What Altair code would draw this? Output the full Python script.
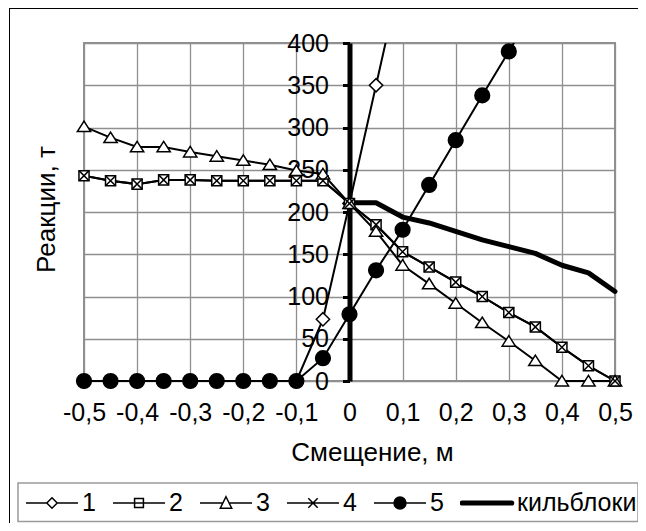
import altair as alt
import pandas as pd

# ---------------- data ----------------
NAMES = ["1", "2", "3", "4", "5", "кильблоки"]

X_FULL = [-0.5, -0.45, -0.4, -0.35, -0.3, -0.25, -0.2, -0.15, -0.1, -0.05, 0.0,
          0.05, 0.1, 0.15, 0.2, 0.25, 0.3, 0.35, 0.4, 0.45, 0.5]

X_S1 = [-0.5, -0.45, -0.4, -0.35, -0.3, -0.25, -0.2, -0.15, -0.1, -0.05, 0.0, 0.05, 0.1]
S1 = [0, 0, 0, 0, 0, 0, 0, 0, 0, 73, 210, 350, 490]

S2 = [243, 237, 233, 238, 238, 237, 237, 237, 237, 237, 210,
      185, 153, 135, 117, 100, 81, 64, 40, 18, 0]

S3 = [301, 288, 277, 277, 271, 266, 261, 256, 249, 245, 210,
      177, 137, 115, 92, 69, 47, 24, 0, 0, 0]

S4 = [243, 237, 233, 238, 238, 237, 237, 237, 237, 237, 210,
      185, 153, 135, 117, 100, 81, 64, 40, 18, 0]

X_S5 = [-0.5, -0.45, -0.4, -0.35, -0.3, -0.25, -0.2, -0.15, -0.1, -0.05, 0.0,
        0.05, 0.1, 0.15, 0.2, 0.25, 0.3, 0.35]
S5 = [0, 0, 0, 0, 0, 0, 0, 0, 0, 27, 79, 131, 179, 232, 285, 338, 390, 443]

X_KEEL = [0.0, 0.05, 0.1, 0.15, 0.2, 0.25, 0.3, 0.35, 0.4, 0.45, 0.5]
KEEL = [211, 211, 194, 187, 177, 167, 159, 151, 137, 128, 106]

X_TICKS = [-0.5, -0.4, -0.3, -0.2, -0.1, 0.0, 0.1, 0.2, 0.3, 0.4, 0.5]
Y_TICKS = [0, 50, 100, 150, 200, 250, 300, 350, 400]
Y_MAX = 400

X_TITLE = "Смещение, м"
Y_TITLE = "Реакции, т"

# ---------------- tables ----------------
in_rows, over_rows = [], []
for name, xs, ys in [("1", X_S1, S1), ("2", X_FULL, S2), ("3", X_FULL, S3),
                     ("4", X_FULL, S4), ("5", X_S5, S5)]:
    for i, (xv, yv) in enumerate(zip(xs, ys)):
        if yv <= Y_MAX:
            in_rows.append({"x": xv, "y": yv, "series": name})
        else:
            # segment leaving the plot through the top: drawn clipped
            over_rows.append({"x": xs[i - 1], "y": ys[i - 1], "series": name})
            over_rows.append({"x": xv, "y": yv, "series": name})
series_df = pd.DataFrame(in_rows)
over_df = pd.DataFrame(over_rows)
keel_df = pd.DataFrame({"x": X_KEEL, "y": KEEL, "series": NAMES[5]})
all_df = pd.concat([series_df, keel_df], ignore_index=True)

# ---------------- styling ----------------
FONT = "Liberation Sans"
W, H = 531, 338

MARKER_PATHS = [
    "M0,-0.95L0.95,0L0,0.95L-0.95,0Z",
    "M-0.72,-0.72H0.72V0.72H-0.72Z",
    "M0,-0.8L0.95,0.7H-0.95Z",
    "M-0.72,-0.72L0.72,0.72M-0.72,0.72L0.72,-0.72",
    "M1.05,0A1.05,1.05,0,1,1,-1.05,0A1.05,1.05,0,1,1,1.05,0Z",
]
MARKER_FILLS = ["white", "white", "white", "transparent", "black"]

LEGEND_PATHS = [
    "M-1,0H-0.2M0.2,0H1M0,-0.2L0.2,0L0,0.2L-0.2,0Z",
    "M-1,0H1M-0.17,-0.17H0.17V0.17H-0.17Z",
    "M-1,0H-0.12M0.12,0H1M0,-0.24L0.22,0.2H-0.22Z",
    "M-1,0H1M-0.18,-0.18L0.18,0.18M-0.18,0.18L0.18,-0.18",
    "M-1,0H1M0.23,0A0.23,0.23,0,1,1,-0.23,0A0.23,0.23,0,1,1,0.23,0Z",
    "M-0.95,-0.07H0.95A0.07,0.07,0,0,1,0.95,0.07H-0.95A0.07,0.07,0,0,1,-0.95,-0.07Z",
]
LEGEND_FILLS = ["white", "white", "white", "transparent", "black", "black"]
LEGEND_STROKES = ["black"] * 6

x_enc = alt.X(
    "x:Q",
    scale=alt.Scale(domain=[-0.5, 0.5], nice=False, zero=False),
    axis=alt.Axis(
        values=X_TICKS,
        labelExpr="datum.value == 0 ? '0' : (datum.value < 0 ? '-' : '') + "
                  "replace(format(abs(datum.value), '.1f'), '.', ',')",
        title=X_TITLE,
        domain=False, ticks=False, tickSize=0,
        grid=True, gridColor="#8f8f8f", gridWidth=1.3,
        labelFont=FONT, labelFontSize=25, labelColor="black", labelPadding=19,
        labelFlush=False, labelOverlap=False,
        titleFont=FONT, titleFontSize=26, titleFontWeight="normal", titleColor="black",
        titlePadding=14, titleX=288,
    ),
)
y_enc = alt.Y(
    "y:Q",
    scale=alt.Scale(domain=[0, Y_MAX], nice=False),
    axis=alt.Axis(
        values=Y_TICKS,
        offset=-265.5,
        domainColor="black", domainWidth=5,
        ticks=True, tickColor="black", tickWidth=3, tickSize=7,
        grid=True, gridColor="#8f8f8f", gridWidth=1.3,
        labelFont=FONT, labelFontSize=25, labelColor="black", labelPadding=14,
        labelFlush=False, labelOverlap=False,
        title=Y_TITLE, titleFont=FONT, titleFontSize=26, titleFontWeight="normal",
        titleColor="black", titleAngle=270, titleBaseline="bottom", titleAlign="center",
        titleX=-290, titleY=166,
    ),
)

# outer chart frame (left and top edges; the others fall outside the page)
frame_src = pd.DataFrame({"a": [0]})
frame_left = alt.Chart(frame_src).mark_rect(color="black", strokeWidth=0).encode(
    x=alt.value(-75), x2=alt.value(-74), y=alt.value(-35), y2=alt.value(700)
)
frame_top = alt.Chart(frame_src).mark_rect(color="black", strokeWidth=0).encode(
    x=alt.value(-75), x2=alt.value(800), y=alt.value(-35), y2=alt.value(-34)
)
# legend box
legend_box = alt.Chart(frame_src).mark_rect(
    fillOpacity=0, stroke="#9a9a9a", strokeWidth=1.5
).encode(
    x=alt.value(-66), x2=alt.value(554), y=alt.value(440), y2=alt.value(478.5)
)

lines = alt.Chart(series_df).mark_line(
    color="black", strokeWidth=2
).encode(x=x_enc, y=y_enc, detail="series:N")

lines_over = alt.Chart(over_df).mark_line(
    clip=True, color="black", strokeWidth=2
).encode(x=x_enc, y=y_enc, detail="series:N")

keel_line = alt.Chart(keel_df).mark_line(
    color="black", strokeWidth=5, strokeJoin="round", strokeCap="round"
).encode(x=x_enc, y=y_enc)

points = alt.Chart(series_df).mark_point(
    size=196, stroke="black", strokeWidth=1.5, opacity=1
).encode(
    x=x_enc, y=y_enc,
    shape=alt.Shape("series:N", scale=alt.Scale(domain=NAMES[:5], range=MARKER_PATHS), legend=None),
    fill=alt.Fill("series:N", scale=alt.Scale(domain=NAMES[:5], range=MARKER_FILLS), legend=None),
)

legend_def = alt.Legend(
    orient="none", legendX=-64, legendY=441, direction="horizontal", title=None,
    symbolSize=2704, clipHeight=28, symbolStrokeColor="black", symbolStrokeWidth=1.5,
    symbolOpacity=1,
    labelFont=FONT, labelFontSize=25, labelColor="black", labelOffset=3,
    columnPadding=16, padding=5,
)

legend_layer = alt.Chart(all_df).mark_point(
    clip=True, size=2704, strokeWidth=1.5, opacity=0
).encode(
    x=x_enc, y=y_enc,
    shape=alt.Shape("series:N", scale=alt.Scale(domain=NAMES, range=LEGEND_PATHS), legend=legend_def),
    fill=alt.Fill("series:N", scale=alt.Scale(domain=NAMES, range=LEGEND_FILLS), legend=legend_def),
    stroke=alt.Stroke("series:N", scale=alt.Scale(domain=NAMES, range=LEGEND_STROKES), legend=legend_def),
)

chart = alt.layer(
    frame_left, frame_top, legend_box, lines, lines_over, keel_line, points, legend_layer
).resolve_scale(
    shape="independent", fill="independent", stroke="independent"
).resolve_legend(
    shape="independent", fill="independent", stroke="independent"
).properties(
    width=W, height=H,
    autosize=alt.AutoSizeParams(type="none"),
    padding={"left": 76, "top": 35, "right": 23, "bottom": 142},
    background="white",
).configure_view(
    stroke="#8f8f8f", strokeWidth=2
)

chart.save("out.html", embed_options={"renderer": "svg", "actions": False})
